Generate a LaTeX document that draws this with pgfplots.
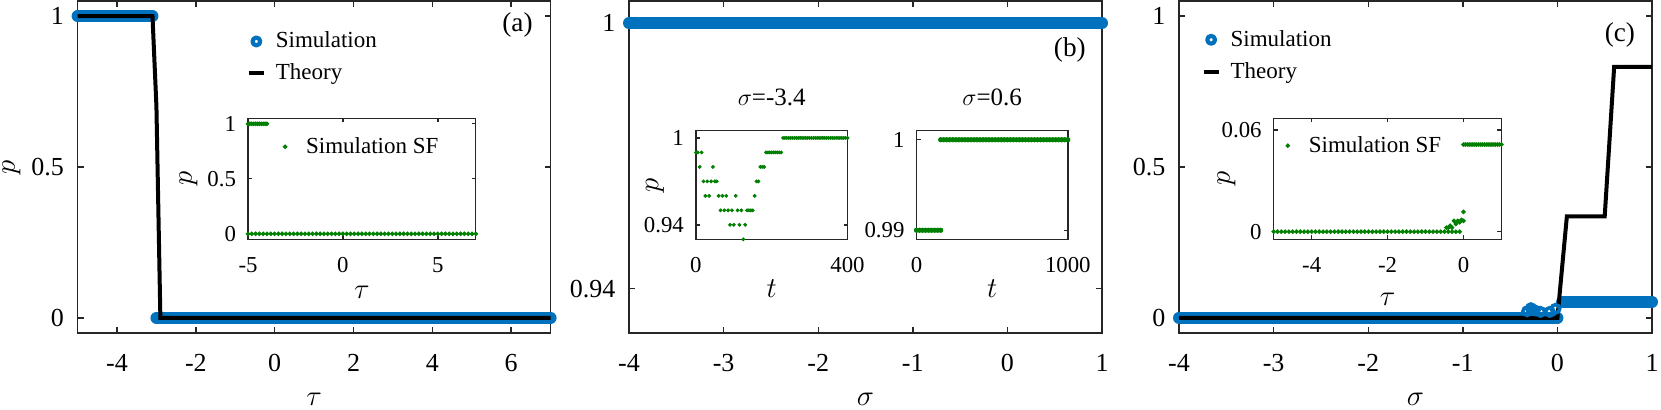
\documentclass[border=0pt]{standalone}
\usepackage{fontspec}
\setmainfont{Liberation Serif}
\usepackage{pgfplots}
\pgfplotsset{compat=1.18}
\definecolor{mblue}{HTML}{0072BD}
\definecolor{mgreen}{rgb}{0,0.5,0}
\definecolor{axc}{HTML}{262626}
\newcommand\fs[1]{\fontsize{#1}{#1}\selectfont}
\pgfplotsset{
  common/.style={scale only axis, anchor=north west, clip=false,
    axis line style={axc, line width=0.7pt}, tick style={axc, line width=0.7pt},
    tick align=inside, tick pos=both, minor tick num=0,
    scaled x ticks=false, scaled y ticks=false,
    axis background/.style={fill=white}},
  mainax/.style={common, width=236.5pt, height=166pt, major tick length=3pt,
    ticklabel style={font=\fs{13}, text=black}, xticklabel shift=7pt, yticklabel shift=3.3pt,
    xlabel style={at={(axis description cs:0.5,-0.2)}, anchor=center, font=\fs{15}},
    ylabel style={at={(axis description cs:-0.14,0.5)}, anchor=center, inner sep=0pt, font=\fs{15}}},
  insetax/.style={common, major tick length=2pt,
    ticklabel style={font=\fs{11.4}, text=black}, xticklabel shift=5.5pt, yticklabel shift=2.5pt,
    xlabel style={anchor=center, font=\fs{14}},
    ylabel style={anchor=center, font=\fs{14}}},
  simband/.style={mblue, line width=6pt, line cap=round, line join=round, no marks,
    legend image code/.code={\path[draw=none,fill=none] (0pt,-1pt) rectangle (7.5pt,1pt);
      \draw[mblue, line width=2.1pt] (3.75pt,0pt) circle[radius=1.95pt];}},
  ringstyle/.style={only marks, mark=o, mark size=2.1pt, line width=1.8pt, color=mblue, forget plot},
  thstyle/.style={black, line width=2pt, no marks,
    legend image code/.code={\draw[##1] (0pt,0pt) -- (7.5pt,0pt);}},
  sfstyle/.style={only marks, mark=*, mark size=0.95pt, color=mgreen, mark options={draw=none, fill=mgreen},
    legend image code/.code={\path[draw=none,fill=none] (0pt,-1pt) rectangle (6pt,1pt);
      \draw[##1, only marks] plot coordinates {(3pt,0pt)};}},
  mainleg/.style={legend style={draw=none, fill=none, inner sep=0pt, anchor=west,
    font=\fs{11.5}, row sep=2.5pt, column sep=3pt}, legend cell align=left},
  insetleg/.style={legend style={draw=none, fill=none, inner sep=0pt, anchor=west,
    font=\fs{11.5}, column sep=5.5pt}, legend cell align=left},
}
\begin{document}
\begin{tikzpicture}
\useasboundingbox (0,0) rectangle (830.5pt,-205pt);
% ---------------- (a) ----------------
\begin{axis}[mainax, at={(38.8pt,-0.5pt)},
  xmin=-5, xmax=7, ymin=-0.05, ymax=1.05,
  xtick={-4,-2,0,2,4,6}, xticklabels={-4,-2,0,2,4,6},
  ytick={0,0.5,1}, yticklabels={0,0.5,1},
  xlabel={$\tau$}, ylabel={$p$},
  mainleg, legend style={at={(axis description cs:0.357,0.83)}}]
\addplot[simband] coordinates {
(-5,1)(-4.9,1)(-4.8,1)(-4.7,1)(-4.6,1)(-4.5,1)(-4.4,1)(-4.3,1)(-4.2,1)(-4.1,1)
(-4,1)(-3.9,1)(-3.8,1)(-3.7,1)(-3.6,1)(-3.5,1)(-3.4,1)(-3.3,1)(-3.2,1)(-3.1,1)};
\addlegendentry{Simulation}
\addplot[simband, forget plot] coordinates {
(-3,0)(-2.9,0)(-2.8,0)(-2.7,0)(-2.6,0)(-2.5,0)(-2.4,0)(-2.3,0)(-2.2,0)(-2.1,0)
(-2,0)(-1.9,0)(-1.8,0)(-1.7,0)(-1.6,0)(-1.5,0)(-1.4,0)(-1.3,0)(-1.2,0)(-1.1,0)
(-1,0)(-0.9,0)(-0.8,0)(-0.7,0)(-0.6,0)(-0.5,0)(-0.4,0)(-0.3,0)(-0.2,0)(-0.1,0)
(0,0)(0.1,0)(0.2,0)(0.3,0)(0.4,0)(0.5,0)(0.6,0)(0.7,0)(0.8,0)(0.9,0)
(1,0)(1.1,0)(1.2,0)(1.3,0)(1.4,0)(1.5,0)(1.6,0)(1.7,0)(1.8,0)(1.9,0)
(2,0)(2.1,0)(2.2,0)(2.3,0)(2.4,0)(2.5,0)(2.6,0)(2.7,0)(2.8,0)(2.9,0)
(3,0)(3.1,0)(3.2,0)(3.3,0)(3.4,0)(3.5,0)(3.6,0)(3.7,0)(3.8,0)(3.9,0)
(4,0)(4.1,0)(4.2,0)(4.3,0)(4.4,0)(4.5,0)(4.6,0)(4.7,0)(4.8,0)(4.9,0)
(5,0)(5.1,0)(5.2,0)(5.3,0)(5.4,0)(5.5,0)(5.6,0)(5.7,0)(5.8,0)(5.9,0)
(6,0)(6.1,0)(6.2,0)(6.3,0)(6.4,0)(6.5,0)(6.6,0)(6.7,0)(6.8,0)(6.9,0)(7,0)};
\addplot[thstyle] coordinates {(-5,1)(-3.1,1)(-3.0,0.7)(-2.9,0)(7,0)};
\addlegendentry{Theory}
\node[font=\fs{13.6}] at (rel axis cs:0.93,0.928) {(a)};
\end{axis}
% inset (a)
\begin{axis}[insetax, at={(124pt,-59.15pt)}, width=113.9pt, height=60.5pt,
  xmin=-5, xmax=7, ymin=-0.05, ymax=1.05,
  xtick={-5,0,5}, xticklabels={-5,0,5},
  ytick={0,0.5,1}, yticklabels={0,0.5,1},
  xlabel={$\tau$}, ylabel={$p$},
  xlabel style={at={(axis description cs:0.5,-0.44)}},
  ylabel style={at={(axis description cs:-0.261,0.5)}},
  insetleg, legend style={at={(axis description cs:0.135,0.765)}}]
\addplot[sfstyle] coordinates {
(-5,1)(-4.9,1)(-4.8,1)(-4.7,1)(-4.6,1)(-4.5,1)(-4.4,1)(-4.3,1)(-4.2,1)(-4.1,1)(-4,1)
(-5,0)(-4.8,0)(-4.6,0)(-4.4,0)(-4.2,0)(-4,0)(-3.8,0)(-3.6,0)(-3.4,0)(-3.2,0)
(-3,0)(-2.8,0)(-2.6,0)(-2.4,0)(-2.2,0)(-2,0)(-1.8,0)(-1.6,0)(-1.4,0)(-1.2,0)
(-1,0)(-0.8,0)(-0.6,0)(-0.4,0)(-0.2,0)(0,0)(0.2,0)(0.4,0)(0.6,0)(0.8,0)
(1,0)(1.2,0)(1.4,0)(1.6,0)(1.8,0)(2,0)(2.2,0)(2.4,0)(2.6,0)(2.8,0)
(3,0)(3.2,0)(3.4,0)(3.6,0)(3.8,0)(4,0)(4.2,0)(4.4,0)(4.6,0)(4.8,0)
(5,0)(5.2,0)(5.4,0)(5.6,0)(5.8,0)(6,0)(6.2,0)(6.4,0)(6.6,0)(6.8,0)(7,0)};
\addlegendentry{Simulation SF}
\end{axis}
% ---------------- (b) ----------------
\begin{axis}[mainax, at={(314.5pt,-0.5pt)},
  xmin=-4, xmax=1, ymin=0.93, ymax=1.005,
  xtick={-4,-3,-2,-1,0,1}, xticklabels={-4,-3,-2,-1,0,1},
  ytick={0.94,1}, yticklabels={0.94,1},
  xlabel={$\sigma$}]
\addplot[simband] coordinates {
(-4,1)(-3.95,1)(-3.9,1)(-3.85,1)(-3.8,1)(-3.75,1)(-3.7,1)(-3.65,1)(-3.6,1)(-3.55,1)
(-3.5,1)(-3.45,1)(-3.4,1)(-3.35,1)(-3.3,1)(-3.25,1)(-3.2,1)(-3.15,1)(-3.1,1)(-3.05,1)
(-3,1)(-2.95,1)(-2.9,1)(-2.85,1)(-2.8,1)(-2.75,1)(-2.7,1)(-2.65,1)(-2.6,1)(-2.55,1)
(-2.5,1)(-2.45,1)(-2.4,1)(-2.35,1)(-2.3,1)(-2.25,1)(-2.2,1)(-2.15,1)(-2.1,1)(-2.05,1)
(-2,1)(-1.95,1)(-1.9,1)(-1.85,1)(-1.8,1)(-1.75,1)(-1.7,1)(-1.65,1)(-1.6,1)(-1.55,1)
(-1.5,1)(-1.45,1)(-1.4,1)(-1.35,1)(-1.3,1)(-1.25,1)(-1.2,1)(-1.15,1)(-1.1,1)(-1.05,1)
(-1,1)(-0.95,1)(-0.9,1)(-0.85,1)(-0.8,1)(-0.75,1)(-0.7,1)(-0.65,1)(-0.6,1)(-0.55,1)
(-0.5,1)(-0.45,1)(-0.4,1)(-0.35,1)(-0.3,1)(-0.25,1)(-0.2,1)(-0.15,1)(-0.1,1)(-0.05,1)
(0,1)(0.05,1)(0.1,1)(0.15,1)(0.2,1)(0.25,1)(0.3,1)(0.35,1)(0.4,1)(0.45,1)
(0.5,1)(0.55,1)(0.6,1)(0.65,1)(0.7,1)(0.75,1)(0.8,1)(0.85,1)(0.9,1)(0.95,1)(1,1)};
\node[font=\fs{13.6}] at (rel axis cs:0.932,0.852) {(b)};
\end{axis}
% inset (b1)
\begin{axis}[insetax, at={(347.95pt,-65.35pt)}, width=75.8pt, height=54.3pt,
  xmin=0, xmax=400, ymin=0.93, ymax=1.005,
  xtick={0,400}, xticklabels={0,400},
  ytick={0.94,1}, yticklabels={0.94,1},
  xlabel={$t$}, ylabel={$p$},
  xlabel style={at={(axis description cs:0.5,-0.45)}},
  ylabel style={at={(axis description cs:-0.27,0.5)}},
  title={$\sigma$=-3.4}, title style={at={(axis description cs:0.5,1.2)}, anchor=center, font=\fs{12.5}}]
\addplot[sfstyle, mark size=0.75pt] coordinates {
(0,0.99)(5,0.99)(10,0.98)(15,0.99)(20,0.97)(25,0.96)(30,0.97)(35,0.96)(40,0.97)(45,0.98)
(50,0.97)(55,0.97)(60,0.96)(65,0.95)(70,0.96)(75,0.95)(80,0.96)(85,0.95)(90,0.94)(95,0.95)
(100,0.94)(105,0.96)(110,0.95)(115,0.94)(120,0.95)(125,0.93)(130,0.94)(135,0.95)(140,0.95)(145,0.95)
(150,0.95)(155,0.96)(160,0.97)(165,0.97)(170,0.98)(175,0.98)(180,0.98)(185,0.99)(190,0.99)(195,0.99)
(200,0.99)(205,0.99)(210,0.99)(215,0.99)(220,0.99)(225,0.99)(230,1)(235,1)(240,1)(245,1)
(250,1)(255,1)(260,1)(265,1)(270,1)(275,1)(280,1)(285,1)(290,1)(295,1)
(300,1)(305,1)(310,1)(315,1)(320,1)(325,1)(330,1)(335,1)(340,1)(345,1)
(350,1)(355,1)(360,1)(365,1)(370,1)(375,1)(380,1)(385,1)(390,1)(395,1)(400,1)};
\end{axis}
% inset (b2)
\begin{axis}[insetax, at={(458.25pt,-65.35pt)}, width=75.65pt, height=54.3pt,
  xmin=0, xmax=1000, ymin=0.989, ymax=1.001,
  xtick={0,1000}, xticklabels={0,1000},
  ytick={0.99,1}, yticklabels={0.99,1},
  xlabel={$t$},
  xlabel style={at={(axis description cs:0.5,-0.45)}},
  title={$\sigma$=0.6}, title style={at={(axis description cs:0.5,1.2)}, anchor=center, font=\fs{12.5}}]
\addplot[sfstyle, mark size=1.1pt] coordinates {
(0,0.99)(20,0.99)(40,0.99)(60,0.99)(80,0.99)(100,0.99)(120,0.99)(140,0.99)(160,0.99)
(160,1)(180,1)(200,1)(220,1)(240,1)(260,1)(280,1)(300,1)(320,1)(340,1)
(360,1)(380,1)(400,1)(420,1)(440,1)(460,1)(480,1)(500,1)(520,1)(540,1)
(560,1)(580,1)(600,1)(620,1)(640,1)(660,1)(680,1)(700,1)(720,1)(740,1)
(760,1)(780,1)(800,1)(820,1)(840,1)(860,1)(880,1)(900,1)(920,1)(940,1)
(960,1)(980,1)(1000,1)};
\end{axis}
% ---------------- (c) ----------------
\begin{axis}[mainax, at={(589.5pt,-0.5pt)},
  xmin=-4, xmax=1, ymin=-0.05, ymax=1.05,
  xtick={-4,-3,-2,-1,0,1}, xticklabels={-4,-3,-2,-1,0,1},
  ytick={0,0.5,1}, yticklabels={0,0.5,1},
  xlabel={$\sigma$},
  mainleg, legend style={at={(axis description cs:0.047,0.835)}}]
\addplot[simband] coordinates {
(-4,0)(-3.95,0)(-3.9,0)(-3.85,0)(-3.8,0)(-3.75,0)(-3.7,0)(-3.65,0)(-3.6,0)(-3.55,0)
(-3.5,0)(-3.45,0)(-3.4,0)(-3.35,0)(-3.3,0)(-3.25,0)(-3.2,0)(-3.15,0)(-3.1,0)(-3.05,0)
(-3,0)(-2.95,0)(-2.9,0)(-2.85,0)(-2.8,0)(-2.75,0)(-2.7,0)(-2.65,0)(-2.6,0)(-2.55,0)
(-2.5,0)(-2.45,0)(-2.4,0)(-2.35,0)(-2.3,0)(-2.25,0)(-2.2,0)(-2.15,0)(-2.1,0)(-2.05,0)
(-2,0)(-1.95,0)(-1.9,0)(-1.85,0)(-1.8,0)(-1.75,0)(-1.7,0)(-1.65,0)(-1.6,0)(-1.55,0)
(-1.5,0)(-1.45,0)(-1.4,0)(-1.35,0)(-1.3,0)(-1.25,0)(-1.2,0)(-1.15,0)(-1.1,0)(-1.05,0)
(-1,0)(-0.95,0)(-0.9,0)(-0.85,0)(-0.8,0)(-0.75,0)(-0.7,0)(-0.65,0)(-0.6,0)(-0.55,0)
(-0.5,0)(-0.45,0)(-0.4,0)(-0.35,0)(-0.3,0)(-0.25,0)(-0.2,0)(-0.15,0)(-0.1,0)(-0.05,0)(0,0)};
\addlegendentry{Simulation}
\addplot[simband, forget plot] coordinates {
(0.05,0.053)(0.1,0.053)(0.15,0.053)(0.2,0.053)(0.25,0.053)(0.3,0.053)(0.35,0.053)(0.4,0.053)(0.45,0.053)(0.5,0.053)
(0.55,0.053)(0.6,0.053)(0.65,0.053)(0.7,0.053)(0.75,0.053)(0.8,0.053)(0.85,0.053)(0.9,0.053)(0.95,0.053)(1,0.053)};
\addplot[ringstyle] coordinates {
(-0.32,0.022)(-0.28,0.032)(-0.24,0.025)(-0.18,0.02)(-0.08,0.02)(-0.02,0.03)};
\addplot[thstyle] coordinates {(-4,0)(0,0)(0.1,0.336)(0.5,0.336)(0.6,0.832)(1,0.832)};
\addlegendentry{Theory}
\node[font=\fs{13.6}] at (rel axis cs:0.932,0.897) {(c)};
\end{axis}
% inset (c)
\begin{axis}[insetax, at={(636.85pt,-59.15pt)}, width=113.85pt, height=60.5pt,
  xmin=-5, xmax=1, ymin=-0.0045, ymax=0.067,
  xtick={-4,-2,0}, xticklabels={-4,-2,0},
  ytick={0,0.06}, yticklabels={0,0.06},
  xlabel={$\tau$}, ylabel={$p$},
  xlabel style={at={(axis description cs:0.5,-0.5)}},
  ylabel style={at={(axis description cs:-0.208,0.5)}},
  insetleg, legend style={at={(axis description cs:0.034,0.774)}}]
\addplot[sfstyle] coordinates {
(-5,0)(-4.9,0)(-4.8,0)(-4.7,0)(-4.6,0)(-4.5,0)(-4.4,0)(-4.3,0)(-4.2,0)(-4.1,0)
(-4,0)(-3.9,0)(-3.8,0)(-3.7,0)(-3.6,0)(-3.5,0)(-3.4,0)(-3.3,0)(-3.2,0)(-3.1,0)
(-3,0)(-2.9,0)(-2.8,0)(-2.7,0)(-2.6,0)(-2.5,0)(-2.4,0)(-2.3,0)(-2.2,0)(-2.1,0)
(-2,0)(-1.9,0)(-1.8,0)(-1.7,0)(-1.6,0)(-1.5,0)(-1.4,0)(-1.3,0)(-1.2,0)(-1.1,0)
(-1,0)(-0.9,0)(-0.8,0)(-0.7,0)(-0.6,0)(-0.5,0)(-0.4,0)(-0.3,0)(-0.2,0)(-0.1,0)
(-0.45,0.0024)(-0.4,0.0024)(-0.35,0.0035)(-0.3,0.0024)(-0.25,0.0064)(-0.2,0.0045)
(-0.15,0.0064)(-0.1,0.0055)(-0.05,0.007)(0,0.0117)(0,0.0064)
(0,0.0515)(0.05,0.0515)(0.1,0.0515)(0.15,0.0515)(0.2,0.0515)(0.25,0.0515)(0.3,0.0515)
(0.35,0.0515)(0.4,0.0515)(0.45,0.0515)(0.5,0.0515)(0.55,0.0515)(0.6,0.0515)(0.65,0.0515)
(0.7,0.0515)(0.75,0.0515)(0.8,0.0515)(0.85,0.0515)(0.9,0.0515)(0.95,0.0515)(1,0.0515)};
\addlegendentry{Simulation SF}
\end{axis}
\end{tikzpicture}
\end{document}
